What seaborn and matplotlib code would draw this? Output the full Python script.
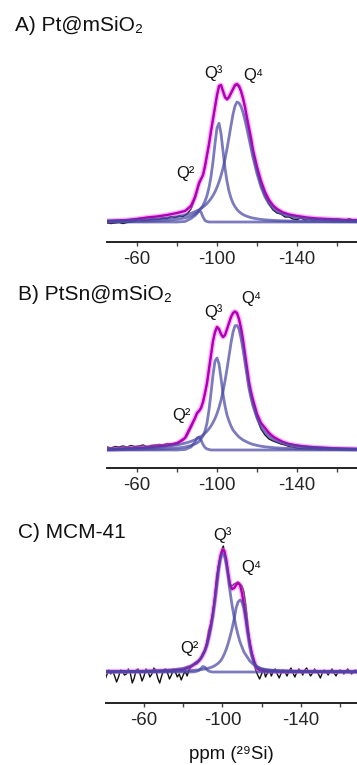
import matplotlib
matplotlib.use("Agg")
import matplotlib.pyplot as plt
import seaborn as sns

sns.set_style("white")
plt.rcParams["font.family"] = ["Liberation Sans", "DejaVu Sans"]

# ---------------- data (intensity in arbitrary units above baseline) ----------------
ppm_fit_ab = [-45, -50, -55, -60, -65, -70, -75, -80, -84, -87,
              -89, -90, -91, -92, -93, -94, -95, -96, -97, -98,
              -99, -100, -101, -102, -103, -104, -105, -106, -107, -108,
              -109, -110, -111, -112, -113, -114, -115, -116, -117, -118,
              -120, -122, -124, -126, -128, -130, -133, -136, -140,
              -145, -150, -155, -160, -165, -170]

# Panel A: Pt@mSiO2
a_q2 = [0, 0, 0, 0, 0, 0, 0, 0, 0.5, 3.5,
        6.5, 8.5, 11, 10, 5, 1.5, 0.5, 0, 0, 0,
        0, 0, 0, 0, 0, 0, 0, 0, 0, 0,
        0, 0, 0, 0, 0, 0, 0, 0, 0, 0,
        0, 0, 0, 0, 0, 0, 0, 0, 0,
        0, 0, 0, 0, 0, 0]
a_q3 = [0.4, 0.5, 0.6, 0.7, 0.9, 1.3, 1.8, 2.7, 4.1, 6.0,
        8.0, 9.4, 11.2, 13.5, 16.6, 20.8, 26.4, 34.4, 45.4, 60.4,
        78.4, 94.2, 98.7, 88.6, 71.0, 53.9, 40.6, 30.8, 23.9, 18.9,
        15.3, 12.5, 10.4, 8.8, 7.5, 6.5, 5.7, 5.0, 4.4, 3.9,
        3.2, 2.6, 2.2, 1.9, 1.6, 1.4, 1.2, 1.0, 0.8,
        0.6, 0.5, 0.4, 0.3, 0.3, 0.2]
a_q4 = [1.1, 1.4, 1.6, 2.0, 2.4, 3.1, 4.0, 5.3, 7.0, 8.7,
        10.3, 11.3, 12.3, 13.6, 15, 16.6, 18.5, 20.8, 23.4, 26.5,
        30.2, 34.7, 40, 46.4, 53.9, 62.8, 73.2, 84.6, 96.6, 107.6,
        116, 120, 119, 115.5, 109.5, 101.8, 92.9, 83.5, 74, 64.5,
        48.3, 35, 25.1, 18.2, 13.5, 10.4, 7.6, 5.9, 4.5,
        3.4, 2.6, 2.1, 1.7, 1.4, 1.2]
a_fit = [1, 1.5, 2, 3, 4.5, 5.5, 7, 9, 11, 16,
         25, 32, 39, 43, 47, 56, 67, 78, 91, 103,
         115, 127, 136, 137, 131, 125, 123, 125, 129, 133,
         137, 138, 136, 131, 124, 115, 104, 94, 84, 72,
         55, 41, 30, 22, 16.5, 13, 9.5, 7.5, 6,
         4.5, 3.5, 3, 2.5, 2, 1.8]
a_exp_ppm = [-45, -47, -49, -51, -53, -55, -57, -59, -61, -63,
             -65, -67, -69, -71, -73, -75, -77, -79, -81, -83,
             -85, -87,
             -89, -90, -91, -92, -93, -94, -95, -96, -97, -98,
             -99, -100, -101, -102, -103, -104, -105, -106, -107, -108,
             -109, -110, -111, -112, -113, -114, -115, -116, -117, -118,
             -120, -122, -124, -126, -128, -130, -132, -134, -136, -138,
             -140, -142, -144, -146, -148, -150, -152, -154, -156, -158,
             -160, -162, -164, -166, -168, -170]
a_exp = [-1, -1.5, -1, -0.5, -1.5, -0.5, 0, 1, 4, 1.5,
         2, 2.5, 3, 2.5, 4, 3.5, 5.5, 4.5, 6, 5.5,
         8, 13,
         23, 30, 37, 42, 47, 55, 66, 77, 90, 102,
         114, 126, 135, 136, 130, 124, 122, 124, 128, 132,
         136, 137, 135, 130, 123, 114, 103, 92, 81, 69,
         51, 36, 26, 18, 12, 9, 8, 5, 5, 3,
         2.5, 4, 2, 3, 2, 2.5, 3.5, 2, 3, 2,
         3, 2.5, 1.5, 3.5, 2, 2.5]

# Panel B: PtSn@mSiO2
b_q2 = [0, 0, 0, 0, 0, 0, 0, 0, 0.5, 3,
        8, 12, 13, 10, 5.5, 2.5, 1, 0.5, 0, 0,
        0, 0, 0, 0, 0, 0, 0, 0, 0, 0,
        0, 0, 0, 0, 0, 0, 0, 0, 0, 0,
        0, 0, 0, 0, 0, 0, 0, 0, 0,
        0, 0, 0, 0, 0, 0]
b_q3 = [0.3, 0.4, 0.5, 0.6, 0.8, 1, 1.3, 2, 3, 4.5,
        6, 7, 8.5, 11, 14, 19, 27, 40, 57, 75,
        89, 92, 86, 72, 56, 44, 35, 29, 24, 20,
        17.5, 15, 13, 11.5, 10, 9, 8, 7, 6.3, 5.6,
        4.6, 3.8, 3.2, 2.8, 2.4, 2.1, 1.8, 1.5, 1.2,
        1, 0.8, 0.6, 0.5, 0.4, 0.3]
b_q4 = [1.1, 1.3, 1.6, 1.9, 2.3, 2.9, 3.8, 5.1, 6.8, 8.6,
        10.2, 11.2, 12.3, 13.5, 15, 16.8, 18.8, 21.2, 24, 27.5,
        31.5, 36.4, 42.5, 49.8, 58.5, 69, 81, 94, 107, 117.9,
        124.2, 124.5, 121, 112, 101, 88, 75, 62, 52, 44,
        32, 23, 17.5, 13.5, 10.5, 8.5, 6.8, 5.3, 4,
        3, 2.3, 1.8, 1.5, 1.2, 1]
b_fit = [0.5, 1, 1.5, 2, 2.5, 3.5, 4.5, 6.5, 12, 24,
         32, 37, 39, 42, 48, 57, 67, 81, 95, 109,
         118, 123, 121, 116, 113, 115, 121, 127, 133, 137,
         138.5, 137, 131, 122, 110, 96, 82, 68, 58, 50,
         36, 27, 22, 17, 13.5, 11, 8, 6, 4.5,
         3.3, 2.5, 2, 1.5, 1.2, 1]
b_exp_ppm = a_exp_ppm
b_exp = [3, 2, 3.5, 3, 4, 3, 4.5, 3.5, 4, 5,
         3.5, 4.5, 5, 5.5, 5, 6.5, 6, 7, 8, 9.5,
         14, 22,
         31, 36, 38.5, 41.5, 47.5, 56.5, 66.5, 80.5, 94.5, 108.5,
         117.5, 122.5, 120.5, 115.5, 112.5, 114.5, 120.5, 126.5, 132.5, 136.5,
         138, 136.5, 130.5, 121.5, 109, 95, 80, 66, 55, 46,
         32, 21, 15, 11, 9, 7.5, 6, 5, 3.5, 3,
         2, 1.5, 1.5, 1, 1.5, 1, 0.5, 1, 0.5, 1,
         1.5, 1, 1, 0.5, 1, 1]

# Panel C: MCM-41
ppm_fit_c = [-40, -50, -60, -70, -75, -80, -84, -86, -88,
             -89, -90, -91, -92, -93, -94, -95, -96, -97, -98,
             -99, -100, -101, -102, -103, -104, -105, -106, -107, -108,
             -109, -110, -111, -112, -113, -114, -115, -116, -117, -118,
             -120, -122, -125, -130, -140, -150, -160, -170]
c_q2 = [0, 0, 0, 0, 0, 0, 0, 0.3, 1.5,
        3.5, 5.5, 5, 2.5, 1, 0.3, 0, 0, 0, 0,
        0, 0, 0, 0, 0, 0, 0, 0, 0, 0,
        0, 0, 0, 0, 0, 0, 0, 0, 0, 0,
        0, 0, 0, 0, 0, 0, 0, 0]
c_q3 = [0.3, 0.5, 0.8, 1.5, 2.2, 3.5, 6, 8.5, 11.5,
        14, 17, 21, 26, 34, 43, 54, 68, 84, 101,
        113, 118.5, 117, 108, 95, 79, 66, 55, 45, 37,
        30, 25, 20, 17, 14, 11, 9, 7.5, 6, 5,
        3.5, 2.5, 1.8, 1.2, 0.6, 0.4, 0.3, 0.2]
c_q4 = [0.2, 0.3, 0.4, 0.6, 0.8, 1.1, 1.5, 1.8, 2.2,
        2.4, 2.7, 3, 3.4, 3.9, 4.5, 5.2, 6.2, 7.5, 9,
        11, 14, 18, 23, 29, 36, 44, 53, 64, 70,
        72, 70, 64, 53, 38, 25, 16, 10, 6.5, 4.5,
        2.8, 2, 1.4, 0.9, 0.5, 0.3, 0.2, 0.2]
c_fit = [0.5, 0.6, 0.8, 1.2, 1.6, 2.5, 5.5, 8, 11,
         13.5, 17, 21, 27, 35, 45, 57, 71, 88, 104,
         116, 122, 121, 112, 98, 86, 83, 84, 87, 89,
         87, 79, 67, 53, 40, 29, 19, 12, 6, 3,
         1.5, 1, 0.8, 0.6, 0.5, 0.4, 0.3, 0.3]
c_exp_ppm = [-40, -41, -42, -43, -44, -45, -46, -47, -48, -49,
             -50, -51, -52, -53, -54, -55, -56, -57, -58, -59,
             -60, -61, -62, -63, -64, -65, -66, -67, -68, -69,
             -70, -71, -72, -73, -74, -75, -76, -77, -78, -79,
             -80, -81, -82, -83, -84, -85,
             -86, -87, -88, -89, -90, -91, -92, -93, -94, -95,
             -96, -97, -98, -99, -100, -100.5, -101, -102, -103, -104,
             -105, -106, -107, -108, -109, -110, -111, -112, -113, -114,
             -115, -116, -117,
             -118, -119, -120, -121, -122, -123, -124, -125, -126, -127,
             -128, -129, -130, -131, -132, -133, -134, -135, -136, -137,
             -138, -139, -140, -141, -142, -143, -144, -145, -146, -147,
             -148, -149, -150, -151, -152, -153, -154, -155, -156, -157,
             -158, -159, -160, -161, -162, -163, -164, -165, -166, -167,
             -168, -169, -170]
c_exp = [-8, -3, 2, -2, 1, -4, -10, -5, 2, 1,
         -3, -2, 3, -1, -11, -6, 2, 3, -2, -9,
         -4, 3, 1, -5, -2, 4, 2, -6, -11, -4,
         2, 3, -1, -7, -3, 3, 0, -5, -2, -8,
         -3, 1, -4, 2, 5, 7,
         9, 8, 11, 14, 19, 22, 30, 42, 48, 58,
         74, 95, 107, 116, 124, 126, 121, 110, 97, 88,
         86, 88, 89, 90, 88, 86, 80, 66, 48, 30,
         18, 9, 2,
         -3, -7, -2, 3, -5, -1, 2, -4, 1, 3,
         -2, -6, -1, 2, 0, -4, 1, 4, -1, -5,
         0, 3, 1, -3, 2, 4, 0, -4, -1, 3,
         1, -2, -6, -1, 2, 0, -3, 1, 3, -1,
         -4, 0, 2, 1, -2, 1, 3, 0, -2, 1,
         2, 0, 1]

titles = ["A) Pt@mSiO₂", "B) PtSn@mSiO₂", "C) MCM-41"]
tick_values = [-60, -100, -140]
tick_labels = ["-60", "-100", "-140"]
minor_ticks = [-80, -120, -160]
q_labels = ["Q²", "Q³", "Q⁴"]
x_label = "ppm (²⁹Si)"

# ---------------- layout (figure pixels) ----------------
W, H = 357, 765
fig = plt.figure(figsize=(W / 100, H / 100), dpi=100)

panels = [
    dict(fit_x=ppm_fit_ab, comps=[a_q2, a_q3, a_q4], fit=a_fit, ex=a_exp_ppm, ey=a_exp,
         box=(107, 357, 70, 242), xlim=(-45, -170), ylim=(-20, 152),
         title_xy=(15, 31), qpos=[(-79.5, 44), (-93.5, 144), (-113, 142)]),
    dict(fit_x=ppm_fit_ab, comps=[b_q2, b_q3, b_q4], fit=b_fit, ex=b_exp_ppm, ey=b_exp,
         box=(107, 357, 300, 468), xlim=(-45, -170), ylim=(-18, 150),
         title_xy=(18, 300), qpos=[(-77.5, 30), (-93.5, 133), (-112, 147)]),
    dict(fit_x=ppm_fit_c, comps=[c_q2, c_q3, c_q4], fit=c_fit, ex=c_exp_ppm, ey=c_exp,
         box=(106, 357, 530, 703), xlim=(-40.6, -168.7), ylim=(-31, 142),
         title_xy=(18, 538), qpos=[(-78.4, 19), (-95.2, 132), (-109.5, 100)]),
]

for p, title in zip(panels, titles):
    l, r, t, b = p["box"]
    ax = fig.add_axes([l / W, 1 - b / H, (r - l) / W, (b - t) / H])
    ax.patch.set_alpha(0)
    sns.lineplot(x=p["ex"], y=p["ey"], ax=ax, color="#111111", lw=1.0, zorder=2)
    sns.lineplot(x=p["fit_x"], y=p["fit"], ax=ax, color="#ff66ff", lw=3.6, alpha=0.55, zorder=3)
    sns.lineplot(x=p["fit_x"], y=p["fit"], ax=ax, color="#b000b4", lw=1.7, zorder=3.5)
    for comp in p["comps"]:
        sns.lineplot(x=p["fit_x"], y=comp, ax=ax, color="#4848a4", lw=2.0, alpha=0.72, zorder=4)
    ax.set_xlim(*p["xlim"])
    ax.set_ylim(*p["ylim"])
    for s in ["left", "right", "top"]:
        ax.spines[s].set_visible(False)
    ax.spines["bottom"].set_linewidth(1.4)
    ax.spines["bottom"].set_color("#222222")
    ax.set_xticks(tick_values)
    ax.set_xticklabels(tick_labels)
    ax.set_xticks(minor_ticks, minor=True)
    ax.tick_params(axis="x", which="both", direction="out", length=3, width=1,
                   color="#444444", labelsize=13.4, pad=3.2, bottom=True)
    ax.set_yticks([])
    ax.set_xlabel("")
    ax.set_ylabel("")
    for (qx, qy), lab in zip(p["qpos"], q_labels):
        ax.text(qx, qy, lab, fontsize=12, ha="left", va="baseline", color="#111111")
    tx, ty = p["title_xy"]
    fig.text(tx / W, 1 - ty / H, title, fontsize=15, ha="left", va="baseline", color="#111111")

fig.text(231.5 / W, 1 - 759 / H, x_label, fontsize=13.4, ha="center", va="baseline", color="#111111")

fig.savefig("out.png", dpi=100)
